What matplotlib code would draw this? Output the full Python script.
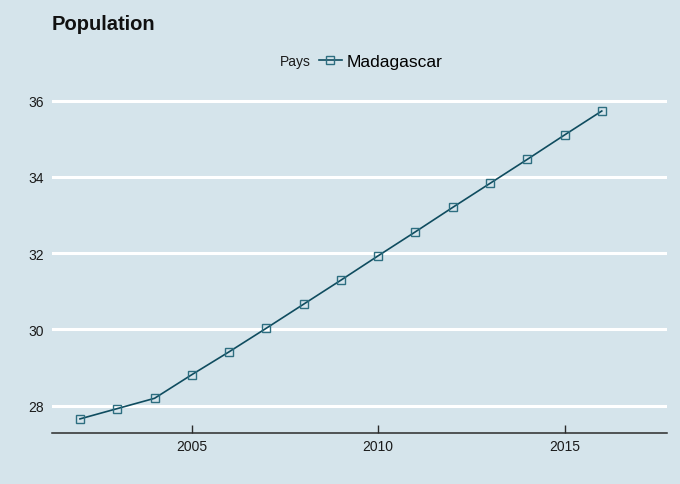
import matplotlib
matplotlib.use('Agg')
import matplotlib.pyplot as plt

# Madagascar population (millions)
years = [2002, 2003, 2004, 2005, 2006, 2007, 2008, 2009,
         2010, 2011, 2012, 2013, 2014, 2015, 2016]
population = [27.65, 27.92, 28.19, 28.81, 29.41, 30.03, 30.66, 31.29,
              31.93, 32.56, 33.20, 33.83, 34.46, 35.10, 35.73]
y_ticks = [28, 30, 32, 34, 36]
x_ticks = [2005, 2010, 2015]

BG = '#d5e4eb'
LINE = '#0f4c5f'
MARKER = '#2d6e80'

plt.rcParams['font.family'] = ['Liberation Sans', 'DejaVu Sans']

W, H = 680, 485
fig = plt.figure(figsize=(W / 100, H / 100), dpi=100, facecolor=BG)
ax = fig.add_axes([52 / W, 1 - 434 / H, (667 - 52) / W, (434 - 96) / H])
ax.set_facecolor(BG)

ax.plot(years, population, color=LINE, linewidth=1.2, marker='s',
        markersize=5.5, markerfacecolor='none', markeredgecolor=MARKER,
        markeredgewidth=1.0, label='Madagascar', zorder=3)

ax.set_xlim(2001.25, 2017.75)
ax.set_ylim(27.28, 36.15)
ax.set_yticks(y_ticks)
ax.set_xticks(x_ticks)
ax.grid(axis='y', color='white', linewidth=2.2, zorder=0)
ax.set_axisbelow(True)

for side in ('top', 'right', 'left'):
    ax.spines[side].set_visible(False)
ax.spines['bottom'].set_color('#2b2b2b')
ax.spines['bottom'].set_linewidth(1.1)
ax.tick_params(axis='x', direction='in', length=6, width=1, color='#2b2b2b',
               labelsize=10, pad=4, labelcolor='#1a1a1a')
ax.tick_params(axis='y', length=0, labelsize=10, pad=6, labelcolor='#1a1a1a')

fig.text(52 / W, 1 - 24 / H, 'Population', fontsize=14.5, fontweight='bold',
         ha='left', va='center', color='#111111')

# legend: title "Pays" then the single series key
fig.text(311 / W, 1 - 62 / H, 'Pays', fontsize=10, ha='right', va='center',
         color='#1a1a1a')
leg = fig.legend(handles=ax.get_lines(), loc='center left',
                 bbox_to_anchor=(319 / W, 1 - 62 / H), frameon=False,
                 fontsize=12.5, handlelength=1.3, handletextpad=0.3,
                 borderpad=0, borderaxespad=0)

fig.savefig('out.png', dpi=100, facecolor=BG)
